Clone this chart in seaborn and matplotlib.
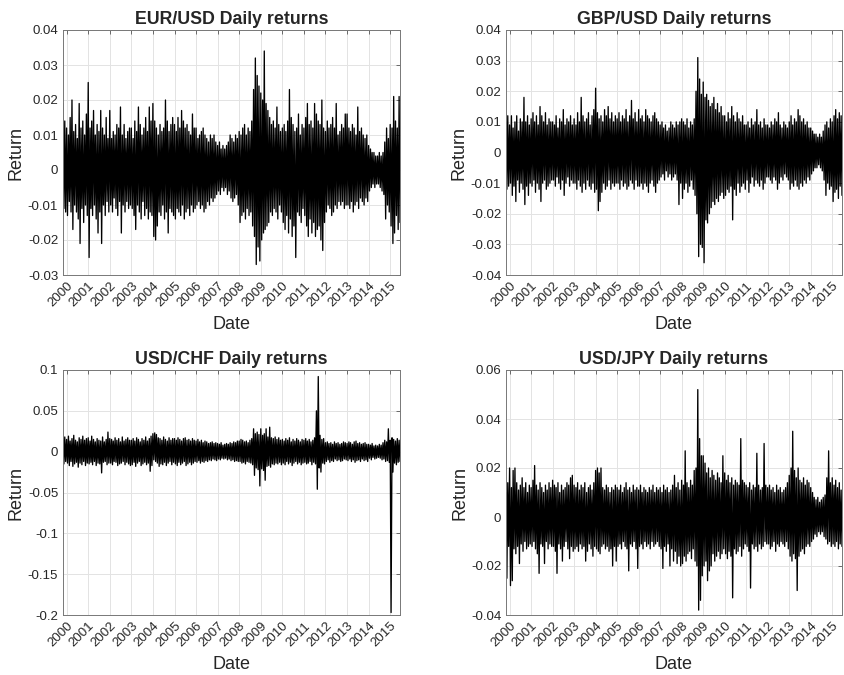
import numpy as np
import pandas as pd
import matplotlib
matplotlib.use("Agg")
import matplotlib.pyplot as plt
import matplotlib.dates as mdates
from matplotlib.ticker import FuncFormatter, MultipleLocator
import seaborn as sns

# ---------------- data (monthly high / low daily return, in thousandths) -------------
# months: Nov 1999 ... Jun 2015 (188 months); rows = years
eur_hi = [19, 14,
          12, 10, 15, 20, 11, 13, 9, 19, 12, 14, 10, 16,
          25, 12, 14, 17, 10, 13, 11, 17, 12, 10, 15, 9,
          17, 9, 11, 10, 13, 12, 18, 10, 13, 9, 11, 12,
          12, 9, 14, 11, 18, 13, 10, 12, 15, 11, 18, 14,
          19, 14, 12, 10, 13, 11, 12, 20, 14, 11, 13, 15,
          13, 11, 15, 12, 17, 14, 12, 13, 11, 10, 16, 12,
          12, 9, 10, 11, 12, 10, 9, 8, 10, 9, 10, 8,
          7, 8, 6, 7, 6, 7, 8, 10, 9, 8, 10, 9,
          11, 10, 12, 13, 10, 12, 11, 14, 23, 32, 27, 24,
          22, 20, 34, 19, 17, 15, 13, 14, 12, 18, 13, 11,
          12, 13, 11, 14, 23, 15, 13, 11, 12, 16, 10, 13,
          12, 15, 19, 13, 14, 12, 19, 16, 14, 13, 20, 12,
          11, 14, 12, 13, 15, 12, 19, 10, 11, 13, 12, 16,
          16, 12, 11, 13, 12, 10, 18, 11, 12, 10, 9, 10,
          7, 6, 5, 5, 4, 4, 5, 4, 5, 8, 12, 9,
          13, 12, 21, 14, 12, 21]
eur_lo = [-11, -12,
          -13, -9, -12, -17, -10, -12, -14, -21, -11, -15, -10, -13,
          -25, -11, -13, -10, -14, -18, -12, -21, -10, -13, -9, -12,
          -10, -12, -8, -11, -13, -9, -18, -10, -12, -9, -11, -10,
          -11, -13, -17, -10, -12, -14, -9, -13, -11, -14, -12, -13,
          -19, -20, -16, -12, -13, -10, -14, -12, -18, -11, -12, -13,
          -14, -11, -12, -13, -10, -14, -12, -11, -13, -10, -12, -11,
          -10, -9, -11, -10, -12, -11, -9, -10, -8, -9, -8, -7,
          -6, -7, -5, -6, -5, -7, -6, -8, -9, -8, -7, -10,
          -15, -13, -12, -14, -11, -13, -12, -16, -19, -27, -22, -26,
          -20, -18, -17, -16, -15, -12, -13, -11, -12, -14, -10, -12,
          -15, -17, -13, -18, -14, -19, -16, -25, -12, -13, -15, -11,
          -13, -16, -19, -14, -18, -15, -19, -17, -16, -20, -23, -15,
          -12, -10, -11, -13, -12, -10, -11, -9, -10, -9, -11, -10,
          -10, -11, -9, -12, -10, -9, -11, -8, -9, -10, -8, -9,
          -6, -5, -4, -5, -4, -4, -5, -6, -7, -14, -10, -12,
          -16, -21, -18, -13, -17, -15]

gbp_hi = [10, 12,
          9, 12, 8, 10, 12, 7, 11, 10, 18, 10, 12, 9,
          11, 13, 10, 12, 9, 15, 12, 10, 13, 9, 11, 10,
          10, 9, 12, 8, 11, 10, 14, 9, 11, 10, 12, 9,
          11, 9, 13, 10, 18, 12, 10, 11, 13, 9, 12, 14,
          21, 13, 11, 12, 10, 14, 12, 15, 11, 13, 10, 12,
          11, 13, 10, 12, 11, 14, 10, 12, 17, 11, 13, 10,
          14, 11, 12, 10, 14, 12, 11, 10, 12, 13, 11, 10,
          9, 10, 8, 9, 7, 8, 10, 9, 8, 10, 9, 10,
          11, 10, 9, 11, 8, 10, 9, 11, 20, 31, 24, 19,
          23, 18, 19, 17, 15, 16, 18, 14, 16, 13, 15, 12,
          12, 10, 13, 11, 15, 12, 10, 13, 11, 10, 12, 9,
          9, 10, 8, 11, 9, 10, 14, 9, 10, 8, 11, 9,
          9, 8, 10, 9, 11, 10, 13, 9, 8, 10, 9, 8,
          10, 12, 9, 11, 10, 14, 12, 10, 11, 9, 10, 8,
          8, 7, 6, 6, 5, 6, 5, 7, 9, 10, 8, 11,
          10, 12, 14, 11, 13, 12]
gbp_lo = [-12, -11,
          -10, -14, -11, -16, -9, -13, -10, -12, -17, -11, -14, -10,
          -11, -9, -13, -10, -12, -16, -10, -9, -12, -11, -10, -9,
          -9, -11, -8, -10, -12, -9, -14, -10, -8, -11, -9, -10,
          -10, -12, -9, -11, -13, -10, -12, -9, -11, -12, -10, -13,
          -12, -19, -16, -13, -10, -12, -11, -9, -12, -10, -11, -10,
          -10, -12, -9, -11, -10, -12, -11, -9, -10, -12, -9, -11,
          -11, -10, -12, -10, -11, -13, -10, -9, -11, -13, -10, -9,
          -8, -7, -9, -6, -8, -7, -9, -8, -7, -9, -17, -10,
          -15, -12, -10, -13, -11, -9, -12, -14, -20, -34, -30, -31,
          -36, -22, -23, -20, -18, -16, -17, -15, -16, -14, -13, -15,
          -14, -12, -13, -11, -22, -12, -14, -10, -13, -11, -10, -12,
          -9, -13, -10, -8, -11, -9, -10, -11, -9, -12, -10, -8,
          -8, -9, -10, -8, -9, -12, -10, -8, -9, -7, -8, -9,
          -12, -10, -11, -9, -11, -12, -10, -11, -9, -10, -8, -9,
          -7, -6, -5, -5, -4, -5, -6, -9, -14, -10, -12, -11,
          -16, -13, -12, -15, -11, -14]

chf_hi = [14, 18,
          15, 19, 13, 16, 20, 14, 12, 17, 15, 19, 14, 16,
          17, 13, 19, 15, 12, 16, 14, 13, 18, 12, 15, 24,
          16, 15, 13, 17, 14, 16, 12, 18, 13, 15, 17, 14,
          14, 16, 13, 17, 15, 12, 16, 14, 18, 13, 16, 19,
          22, 23, 21, 17, 16, 14, 18, 15, 13, 17, 14, 16,
          16, 14, 17, 15, 13, 16, 17, 14, 15, 13, 16, 14,
          13, 15, 12, 14, 11, 13, 12, 10, 11, 12, 10, 11,
          10, 9, 11, 8, 9, 10, 9, 11, 10, 12, 11, 13,
          13, 15, 14, 12, 13, 11, 14, 16, 28, 22, 24, 21,
          28, 20, 22, 28, 18, 30, 17, 16, 18, 15, 17, 14,
          15, 13, 16, 14, 17, 12, 15, 13, 16, 14, 12, 15,
          14, 16, 13, 15, 12, 14, 17, 50, 92, 20, 15, 16,
          11, 12, 10, 11, 9, 12, 10, 11, 9, 10, 12, 11,
          10, 12, 11, 9, 12, 13, 10, 11, 9, 10, 11, 9,
          9, 8, 10, 7, 8, 7, 9, 8, 11, 14, 12, 28,
          14, 17, 15, 13, 16, 14]
chf_lo = [-15, -12,
          -14, -17, -12, -18, -15, -13, -19, -14, -16, -12, -17, -14,
          -15, -13, -16, -12, -17, -14, -15, -26, -13, -12, -16, -14,
          -14, -16, -12, -13, -17, -15, -14, -12, -16, -13, -15, -17,
          -16, -13, -18, -14, -12, -17, -15, -13, -16, -14, -24, -17,
          -10, -12, -14, -18, -15, -16, -13, -17, -14, -12, -16, -13,
          -15, -17, -13, -16, -14, -12, -17, -15, -13, -16, -14, -12,
          -13, -11, -14, -12, -13, -11, -12, -10, -11, -9, -10, -11,
          -9, -10, -8, -9, -8, -10, -9, -11, -10, -12, -11, -12,
          -12, -14, -13, -15, -12, -13, -14, -16, -29, -20, -22, -42,
          -21, -23, -35, -18, -17, -19, -15, -16, -14, -15, -13, -16,
          -14, -16, -12, -15, -13, -17, -14, -12, -15, -13, -16, -14,
          -13, -15, -14, -12, -16, -13, -15, -46, -20, -25, -14, -15,
          -12, -10, -13, -11, -12, -9, -11, -10, -12, -11, -9, -10,
          -11, -9, -12, -10, -13, -11, -10, -12, -9, -11, -10, -12,
          -8, -10, -7, -9, -8, -7, -8, -10, -9, -12, -11, -13,
          -197, -25, -14, -16, -13, -12]

jpy_hi = [10, 14,
          20, 12, 19, 20, 14, 11, 13, 16, 12, 14, 10, 13,
          12, 15, 21, 13, 11, 14, 12, 10, 13, 11, 14, 12,
          15, 13, 12, 14, 10, 13, 11, 12, 14, 13, 16, 17,
          13, 12, 14, 11, 13, 12, 14, 10, 12, 13, 11, 14,
          19, 20, 18, 20, 12, 11, 13, 12, 10, 12, 11, 13,
          12, 11, 13, 10, 12, 14, 11, 12, 10, 13, 11, 12,
          11, 13, 10, 12, 11, 10, 12, 11, 13, 10, 12, 11,
          12, 10, 13, 11, 12, 10, 11, 13, 17, 12, 14, 11,
          15, 13, 27, 14, 12, 15, 13, 19, 20, 52, 32, 25,
          25, 22, 18, 20, 16, 19, 17, 15, 18, 16, 14, 25,
          18, 15, 17, 14, 16, 13, 15, 14, 13, 32, 15, 14,
          13, 12, 14, 11, 13, 12, 26, 13, 11, 12, 30, 13,
          12, 13, 11, 12, 10, 13, 11, 12, 10, 11, 12, 14,
          17, 20, 35, 19, 16, 20, 15, 14, 16, 13, 15, 14,
          12, 10, 8, 7, 8, 6, 7, 8, 9, 16, 27, 14,
          16, 13, 15, 12, 14, 11]
jpy_lo = [-25, -12,
          -28, -26, -13, -15, -12, -19, -11, -14, -10, -13, -12, -11,
          -12, -10, -13, -15, -23, -11, -12, -19, -10, -13, -11, -12,
          -12, -14, -23, -11, -13, -18, -12, -10, -13, -17, -12, -14,
          -13, -12, -14, -11, -13, -12, -18, -14, -11, -13, -16, -12,
          -13, -14, -15, -12, -11, -13, -12, -14, -13, -20, -12, -18,
          -12, -11, -13, -10, -12, -13, -22, -11, -12, -10, -13, -21,
          -12, -11, -13, -10, -12, -11, -13, -10, -12, -11, -10, -12,
          -13, -21, -12, -14, -11, -20, -13, -18, -14, -19, -16, -20,
          -19, -16, -18, -15, -14, -17, -13, -18, -20, -38, -34, -24,
          -20, -18, -26, -22, -20, -15, -18, -16, -14, -17, -15, -13,
          -15, -17, -14, -16, -33, -13, -15, -14, -12, -16, -13, -11,
          -12, -14, -29, -11, -13, -12, -14, -11, -13, -12, -10, -11,
          -11, -13, -12, -10, -14, -11, -12, -10, -11, -12, -10, -13,
          -16, -18, -15, -17, -30, -16, -14, -13, -15, -12, -11, -12,
          -10, -9, -7, -8, -6, -7, -6, -8, -9, -11, -10, -12,
          -11, -12, -10, -13, -11, -12]

pairs = ["EUR/USD", "GBP/USD", "USD/CHF", "USD/JPY"]
highs = [eur_hi, gbp_hi, chf_hi, jpy_hi]
lows = [eur_lo, gbp_lo, chf_lo, jpy_lo]
y_limits = [(-0.03, 0.04), (-0.04, 0.04), (-0.2, 0.1), (-0.04, 0.06)]
y_steps = [0.01, 0.01, 0.05, 0.02]
start_month = "1999-11-01"

# ---------------- build long table --------------------------------------------------
frames = []
for name, hi, lo in zip(pairs, highs, lows):
    months = pd.date_range(start_month, periods=len(hi), freq="MS")
    d_hi = months
    d_lo = months + pd.Timedelta(days=15)
    dates = np.ravel(np.column_stack([d_hi.values, d_lo.values]))
    vals = np.ravel(np.column_stack([hi, lo])) / 1000.0
    frames.append(pd.DataFrame({"Date": pd.to_datetime(dates), "Return": vals, "pair": name}))
df = pd.concat(frames, ignore_index=True)

# ---------------- style --------------------------------------------------------------
sns.set_style("white")
plt.rcParams["font.family"] = ["Liberation Sans", "DejaVu Sans"]
plt.rcParams["axes.unicode_minus"] = False

W, H = 844, 675
fig = plt.figure(figsize=(W / 100, H / 100), dpi=100)
boxes = [(63, 30, 400, 275), (506, 30, 842, 275), (63, 370, 400, 615), (506, 370, 842, 615)]

def fmt(v, pos):
    v = round(v, 6)
    if v == 0:
        return "0"
    return f"{v:g}"

for name, box, ylim, step in zip(pairs, boxes, y_limits, y_steps):
    l, t, r, b = box
    ax = fig.add_axes([l / W, 1 - b / H, (r - l) / W, (b - t) / H])
    sub = df[df["pair"] == name]
    sns.lineplot(data=sub, x="Date", y="Return", ax=ax, color="black",
                 linewidth=0.95, estimator=None, legend=False)
    ax.set_xlim(sub["Date"].min(), sub["Date"].max())
    ax.set_ylim(*ylim)
    ax.yaxis.set_major_locator(MultipleLocator(step))
    ax.yaxis.set_major_formatter(FuncFormatter(fmt))
    ax.xaxis.set_major_locator(mdates.YearLocator())
    ax.xaxis.set_major_formatter(mdates.DateFormatter("%Y"))
    ax.grid(True, color="#e3e3e3", linewidth=0.7)
    ax.set_axisbelow(True)
    ax.tick_params(direction="in", top=True, right=True, length=3, width=0.6,
                   color="#555555", labelsize=9.5, labelcolor="#262626")
    for lab in ax.get_xticklabels():
        lab.set_rotation(45)
        lab.set_ha("right")
        lab.set_rotation_mode("anchor")
    for s in ax.spines.values():
        s.set_color("#777777")
        s.set_linewidth(0.7)
    ax.set_title(f"{name} Daily returns", fontsize=12.8, fontweight="bold", pad=4)
    ax.set_xlabel("Date", fontsize=13, color="#262626", labelpad=5)
    ax.set_ylabel("Return", fontsize=13, color="#262626", labelpad=2)

fig.savefig("out.png", dpi=100)
